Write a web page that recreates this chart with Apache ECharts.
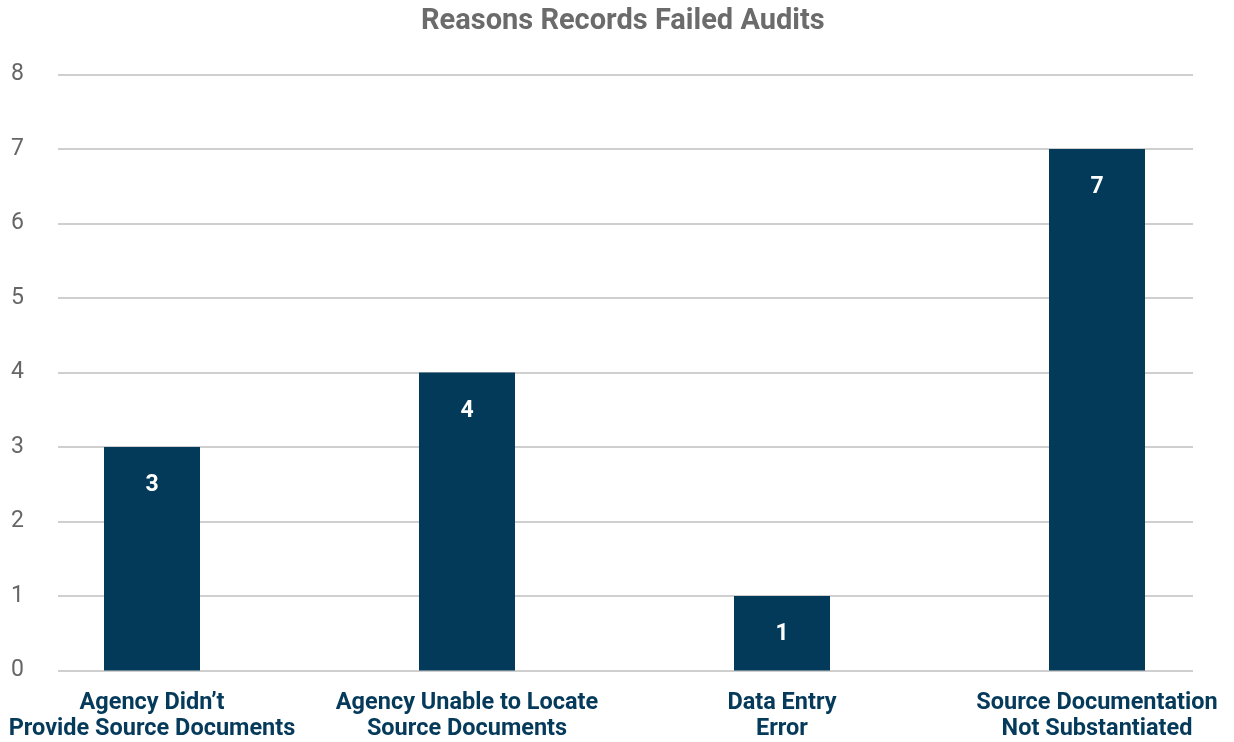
<!DOCTYPE html>
<html><head><meta charset="utf-8">
<script src="https://cdn.jsdelivr.net/npm/echarts@6/dist/echarts.min.js"></script>
<style>html,body{margin:0;padding:0;background:#fff}#c{width:1234px;height:742px}</style>
</head><body><div id="c"></div>
<script>
const title = 'Reasons Records Failed Audits';
const categories = ["Agency Didn’t\nProvide Source Documents", "Agency Unable to Locate\nSource Documents", "Data Entry\nError", "Source Documentation\nNot Substantiated"];
const values = [3, 4, 1, 7];
const yMin = 0, yMax = 8, yStep = 1;

const chart = echarts.init(document.getElementById('c'));
const font = 'Roboto, "Noto Sans", sans-serif';
chart.setOption({
  backgroundColor: '#ffffff',
  animation: false,
  title: { text: title, left: 416, top: 2,
    textStyle: { fontFamily: font, fontWeight: 'bold', fontSize: 29, color: '#6b6b6b' } },
  grid: [
    { left: 58, right: 41, top: 74.5, bottom: 71.5, outerBoundsMode: 'none', containLabel: false },
    { left: -5.5, width: 1260, top: 74.5, bottom: 71.5, outerBoundsMode: 'none', containLabel: false }
  ],
  xAxis: [
    { gridIndex: 0, type: 'value', min: 0, max: 1, show: false },
    { gridIndex: 1, type: 'category', data: categories,
      axisLine: { show: false }, axisTick: { show: false },
      axisLabel: { margin: 20, interval: 0, fontFamily: font, fontWeight: 'bold', fontSize: 23.5, lineHeight: 26, color: '#053a5b' } }
  ],
  yAxis: [
    { gridIndex: 0, type: 'value', min: yMin, max: yMax, interval: yStep,
      axisLine: { show: false }, axisTick: { show: false },
      axisLabel: { margin: 34, padding: [4, 0, 0, 0], fontFamily: font, fontSize: 23, color: '#666666' },
      splitLine: { lineStyle: { color: '#bfbfbf', width: 1.5 } } },
    { gridIndex: 1, type: 'value', min: yMin, max: yMax, interval: yStep, show: false, splitLine: { show: false } }
  ],
  series: [{
    type: 'bar', xAxisIndex: 1, yAxisIndex: 1, data: values, barWidth: 96,
    itemStyle: { color: '#033a5a' },
    label: { show: true, position: 'insideTop', distance: 27, color: '#ffffff',
      fontFamily: font, fontWeight: 'bold', fontSize: 23 }
  }]
});
</script></body></html>
